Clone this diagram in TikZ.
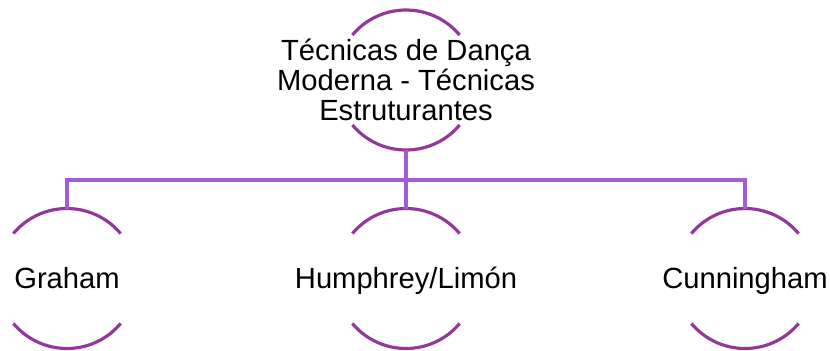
\documentclass[tikz,border=0pt]{standalone}
\usepackage{fontspec}
\setmainfont{Liberation Sans}
\usepackage{tikz}

\definecolor{rimpurple}{RGB}{146,56,154}
\definecolor{linkpurple}{RGB}{163,91,214}

\begin{document}
\begin{tikzpicture}[
        rim/.style={rimpurple, line width=1.8pt},
        link/.style={linkpurple, line width=1.8pt},
        leaf/.style={inner sep=0pt, outer sep=0pt, text height=0.38cm, text depth=0pt,
            font=\fontsize{16.6}{17}\selectfont}
    ]
    \useasboundingbox (0,0) rectangle (16.6,7);
    \node[inner sep=0pt, outer sep=0pt, align=center, font=\fontsize{16.6}{17.07}\selectfont]
        (tecnicas) at (8.12,5.4) {Técnicas de Dança\\Moderna - Técnicas\\Estruturantes};
    \node[leaf] (graham) at (1.34,1.43) {Graham};
    \node[leaf] (humphrey) at (8.12,1.43) {Humphrey/Limón};
    \node[leaf] (cunningham) at (14.9,1.43) {Cunningham};
    % arcs above and below every label
    \foreach \n in {tecnicas, graham, humphrey, cunningham} {
        \draw[rim] ([shift={(40:1.4)}]\n.center) arc[start angle=40, end angle=140, radius=1.4];
        \draw[rim] ([shift={(220:1.4)}]\n.center) arc[start angle=220, end angle=320, radius=1.4];
    }
    \coordinate (tecnicas-foot) at ([yshift=-1.4cm]tecnicas.center);
    \coordinate (graham-top) at ([yshift=1.4cm]graham.center);
    \coordinate (humphrey-top) at ([yshift=1.4cm]humphrey.center);
    \coordinate (cunningham-top) at ([yshift=1.4cm]cunningham.center);
    \coordinate (bar) at (8.12,3.4);
    \draw[link] (graham-top) |- (bar) -| (cunningham-top);
    \draw[link] (tecnicas-foot) -- (humphrey-top);
\end{tikzpicture}
\end{document}
